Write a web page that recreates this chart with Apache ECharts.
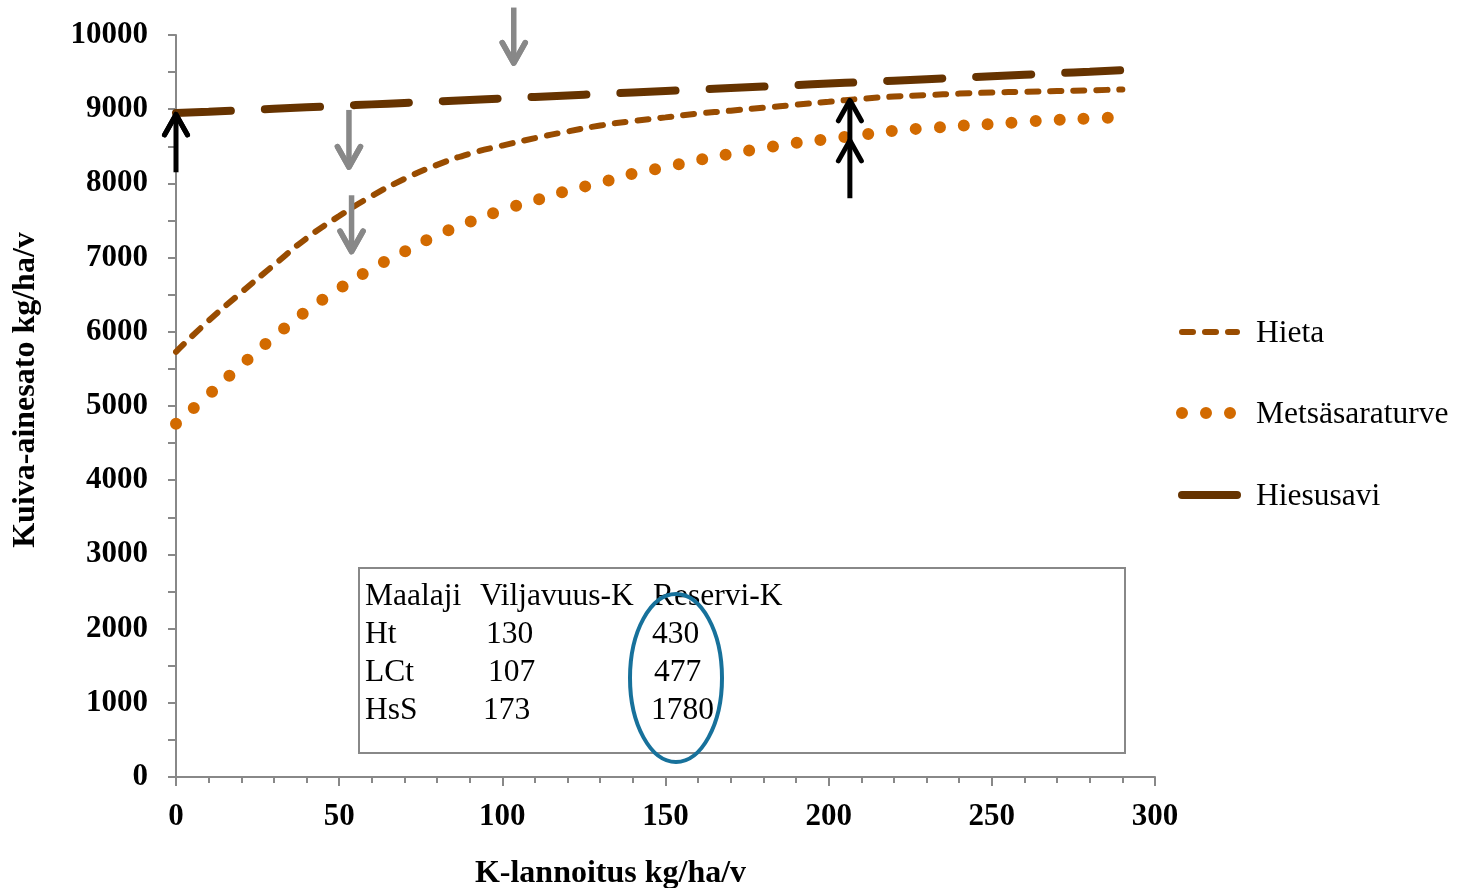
<!DOCTYPE html>
<html><head><meta charset="utf-8">
<script src="https://cdn.jsdelivr.net/npm/echarts@6/dist/echarts.min.js"></script>
<style>html,body{margin:0;padding:0;background:#fff}#c{width:1458px;height:888px}</style>
</head><body><div id="c"></div><script>
// ---- data ----
const xValues = [0,10,20,30,40,50,60,70,80,90,100,110,120,130,140,150,160,170,180,190,200,210,220,230,240,250,260,270,280,290];
const hieta = [5730,6150,6530,6900,7260,7560,7830,8060,8250,8400,8510,8610,8700,8780,8840,8890,8940,8980,9020,9060,9100,9140,9170,9190,9210,9225,9235,9245,9255,9265];
const metsasaraturve = [4760,5150,5550,5930,6280,6580,6850,7080,7300,7480,7640,7770,7900,8010,8130,8220,8315,8400,8475,8545,8600,8655,8710,8745,8775,8800,8830,8855,8875,8895];
const hiesusavi = [8950,8965,8985,9005,9025,9045,9065,9085,9105,9125,9145,9165,9185,9205,9225,9245,9265,9285,9305,9325,9345,9365,9385,9405,9425,9445,9465,9485,9505,9525];
const seriesNames = ['Hieta','Metsäsaraturve','Hiesusavi'];
const xTitle = 'K-lannoitus kg/ha/v';
const yTitle = 'Kuiva-ainesato kg/ha/v';
// arrows: [x, yFrom, yTo, yExtraHead]
const blackArrows = [[0,8150,8950,8950],[206.5,7800,9140,8600]];
const grayArrows = [[53,8990,8200,8200],[53.8,7840,7060,7060],[103.5,10370,9600,9600]];
const tableHeader = ['Maalaji','Viljavuus-K','Reservi-K'];
const tableRows = [['Ht','130','430'],['LCt','107','477'],['HsS','173','1780']];

// ---- style ----
const SERIF = "'Liberation Serif','Times New Roman',serif";
const colors = ['#994C00','#D26A00','#663300'];

function pair(xs, ys){ return xs.map((x,i)=>[x, ys[i]]); }

function arrowRender(color, lw){
  return function(params, api){
    const x = api.value(0);
    const p1 = api.coord([x, api.value(1)]);
    const p2 = api.coord([x, api.value(2)]);
    const ph = api.coord([x, api.value(3)]);
    const dir = p2[1] < p1[1] ? 1 : -1;
    const hw = 11.5, hh = 22;
    const head = p => ({type:'polyline', shape:{points:[[p[0]-hw,p[1]+dir*hh],[p[0],p[1]+dir*1.5],[p[0]+hw,p[1]+dir*hh]]},
      style:{stroke:color, lineWidth:lw, fill:null, lineCap:'round', lineJoin:'round'}});
    return {type:'group', children:[
      {type:'line', shape:{x1:p1[0],y1:p1[1],x2:p2[0],y2:p2[1]+dir*2}, style:{stroke:color,lineWidth:lw}},
      head(p2), head(ph)
    ]};
  };
}

const chart = echarts.init(document.getElementById('c'), null, {renderer:'canvas'});

// table / legend graphics
const graphics = [];
graphics.push({type:'rect', shape:{x:359, y:568, width:766, height:185}, style:{fill:'#fff', stroke:'#888', lineWidth:2}, z:5});
const headerX = [365,480,653];
const rowX = [[365,486,652],[365,488,654],[365,483,651]];
const rowY = [597,635,673,711];
tableHeader.forEach((t,i)=>graphics.push({type:'text', x:headerX[i], y:rowY[0], style:{text:t, font:`31.5px ${SERIF}`, fill:'#000', verticalAlign:'middle', align:'left'}, z:6}));
tableRows.forEach((r,ri)=>r.forEach((t,ci)=>graphics.push({type:'text', x:rowX[ri][ci], y:rowY[ri+1], style:{text:t, font:`31.5px ${SERIF}`, fill:'#000', verticalAlign:'middle', align:'left'}, z:6})));
graphics.push({type:'ellipse', shape:{cx:676, cy:678, rx:46, ry:84}, style:{fill:null, stroke:'#17719B', lineWidth:4}, z:7});
// legend
const legY = [332,413,495];
const legDash = [[11,12],[0,24],null];
const legW = [6,12,8];
seriesNames.forEach((n,i)=>{
  graphics.push({type:'line', shape:{x1:1182, y1:legY[i], x2: i===1?1231:1237, y2:legY[i]},
    style:{stroke:colors[i], lineWidth:legW[i], lineDash:legDash[i], lineCap:'round'}, z:6});
  graphics.push({type:'text', x:1256, y:legY[i]+2, style:{text:n, font:`31.5px ${SERIF}`, fill:'#000', verticalAlign:'middle', align:'left'}, z:6});
});

chart.setOption({
  animation:false,
  backgroundColor:'#fff',
  grid:{left:176, right:303, top:35, bottom:111, containLabel:false, outerBoundsMode:'none'},
  xAxis:{type:'value', min:0, max:300, interval:50,
    name:xTitle, nameLocation:'middle', nameGap:81,
    nameTextStyle:{fontFamily:SERIF, fontWeight:'bold', fontSize:32, color:'#000', padding:[0,110,0,0]},
    axisLine:{lineStyle:{color:'#888', width:2}},
    axisTick:{show:true, length:9, lineStyle:{color:'#888', width:2}},
    minorTick:{show:true, splitNumber:5, length:6, lineStyle:{color:'#888', width:2}},
    splitLine:{show:false},
    axisLabel:{fontFamily:SERIF, fontWeight:'bold', fontSize:31, color:'#000', margin:24}},
  yAxis:{type:'value', min:0, max:10000, interval:1000,
    name:yTitle, nameLocation:'middle', nameGap:134, nameRotate:90,
    nameTextStyle:{fontFamily:SERIF, fontWeight:'bold', fontSize:32, color:'#000', padding:[0,0,0,32]},
    axisLine:{show:true, lineStyle:{color:'#888', width:2}},
    axisTick:{show:true, length:8, lineStyle:{color:'#888', width:2}},
    minorTick:{show:true, splitNumber:2, length:8, lineStyle:{color:'#888', width:2}},
    splitLine:{show:false},
    axisLabel:{fontFamily:SERIF, fontWeight:'bold', fontSize:31, color:'#000', margin:28,
      padding:[5,0,0,0], formatter:v=>String(v)}},
  series:[
    {name:seriesNames[0], type:'line', smooth:true, symbol:'none', data:pair(xValues,hieta),
      lineStyle:{color:colors[0], width:6, type:[11,12], cap:'round'}, z:3},
    {name:seriesNames[1], type:'line', smooth:true, symbol:'none', data:pair(xValues,metsasaraturve),
      lineStyle:{color:colors[1], width:12, type:[0,24], cap:'round'}, z:3},
    {name:seriesNames[2], type:'line', smooth:true, symbol:'none', data:pair(xValues,hiesusavi),
      lineStyle:{color:colors[2], width:8, type:[55,34], cap:'round'}, z:3},
    {type:'custom', renderItem:arrowRender('#000',5), data:blackArrows, clip:false, z:10, silent:true},
    {type:'custom', renderItem:arrowRender('#888',5.5), data:grayArrows, clip:false, z:10, silent:true}
  ],
  graphic:graphics
});
</script></body></html>
